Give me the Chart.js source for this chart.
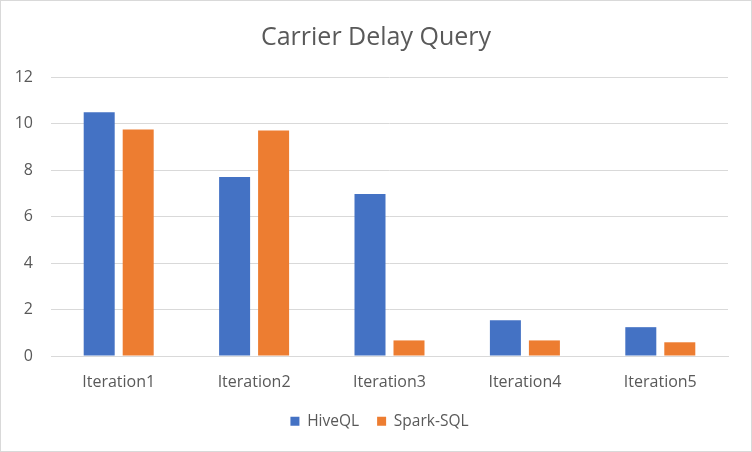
<!DOCTYPE html>
<html>
<head>
<meta charset="utf-8">
<script src="https://cdn.jsdelivr.net/npm/chart.js@4/dist/chart.umd.min.js"></script>
<style>
html,body{margin:0;padding:0;background:#fff;}
#wrap{width:752px;height:452px;position:relative;}
</style>
</head>
<body>
<div id="wrap"><canvas id="c" width="752" height="452"></canvas></div>
<script>
const categories = ["Iteration1","Iteration2","Iteration3","Iteration4","Iteration5"];
const hiveQL = [10.48, 7.70, 6.97, 1.54, 1.24];
const sparkSQL = [9.74, 9.70, 0.67, 0.67, 0.59];
const yTicks = [0, 2, 4, 6, 8, 10, 12];

const FONT = "'Open Sans', 'Noto Sans', sans-serif";
const GREY = "#595959";

const borderPlugin = {
  id: 'border',
  beforeDraw(chart) {
    const ctx = chart.ctx;
    ctx.save();
    ctx.fillStyle = '#fff';
    ctx.fillRect(0, 0, chart.width, chart.height);
    ctx.strokeStyle = '#d9d9d9';
    ctx.lineWidth = 1;
    ctx.strokeRect(0.5, 0.5, chart.width - 1, chart.height - 1);
    ctx.restore();
  }
};

// centre title and legend on the full canvas rather than the padded area
const centrePlugin = {
  id: 'centre',
  afterLayout(chart) {
    if (chart.legend) { chart.legend.left += 19; }
    if (chart.titleBlock) { chart.titleBlock.left += 12; }
  }
};

new Chart(document.getElementById('c'), {
  type: 'bar',
  data: {
    labels: categories,
    datasets: [
      { label: 'HiveQL', data: hiveQL, backgroundColor: '#4472C4', barPercentage: 0.795, categoryPercentage: 0.576 },
      { label: 'Spark-SQL', data: sparkSQL, backgroundColor: '#ED7D31', barPercentage: 0.795, categoryPercentage: 0.576 }
    ]
  },
  plugins: [borderPlugin, centrePlugin],
  options: {
    responsive: false,
    animation: false,
    devicePixelRatio: 1,
    layout: { padding: { left: 12, right: 24, top: 0, bottom: 13 } },
    plugins: {
      title: {
        display: true,
        text: 'Carrier Delay Query',
        color: GREY,
        font: { family: FONT, size: 25, weight: 'normal' },
        padding: { top: 23, bottom: 24 }
      },
      legend: {
        position: 'bottom',
        labels: {
          color: GREY,
          font: { family: FONT, size: 15.5 },
          boxWidth: 9,
          boxHeight: 9,
          padding: 18
        }
      },
      tooltip: { enabled: false }
    },
    scales: {
      x: {
        grid: { display: false, drawTicks: false },
        border: { display: true, color: '#d9d9d9', width: 1 },
        ticks: { color: GREY, font: { family: FONT, size: 16 }, padding: 16.5, maxRotation: 0 },
        afterFit(scale) { scale.height = 39.5; }
      },
      y: {
        min: 0, max: 12,
        afterBuildTicks(scale) { scale.ticks = yTicks.map(v => ({ value: v })); },
        grid: { color: '#d9d9d9', lineWidth: 1, drawTicks: false },
        border: { display: false },
        ticks: { color: GREY, font: { family: FONT, size: 16 }, padding: 18 },
        afterFit(scale) { scale.width = 39; }
      }
    }
  }
});
</script>
</body>
</html>
